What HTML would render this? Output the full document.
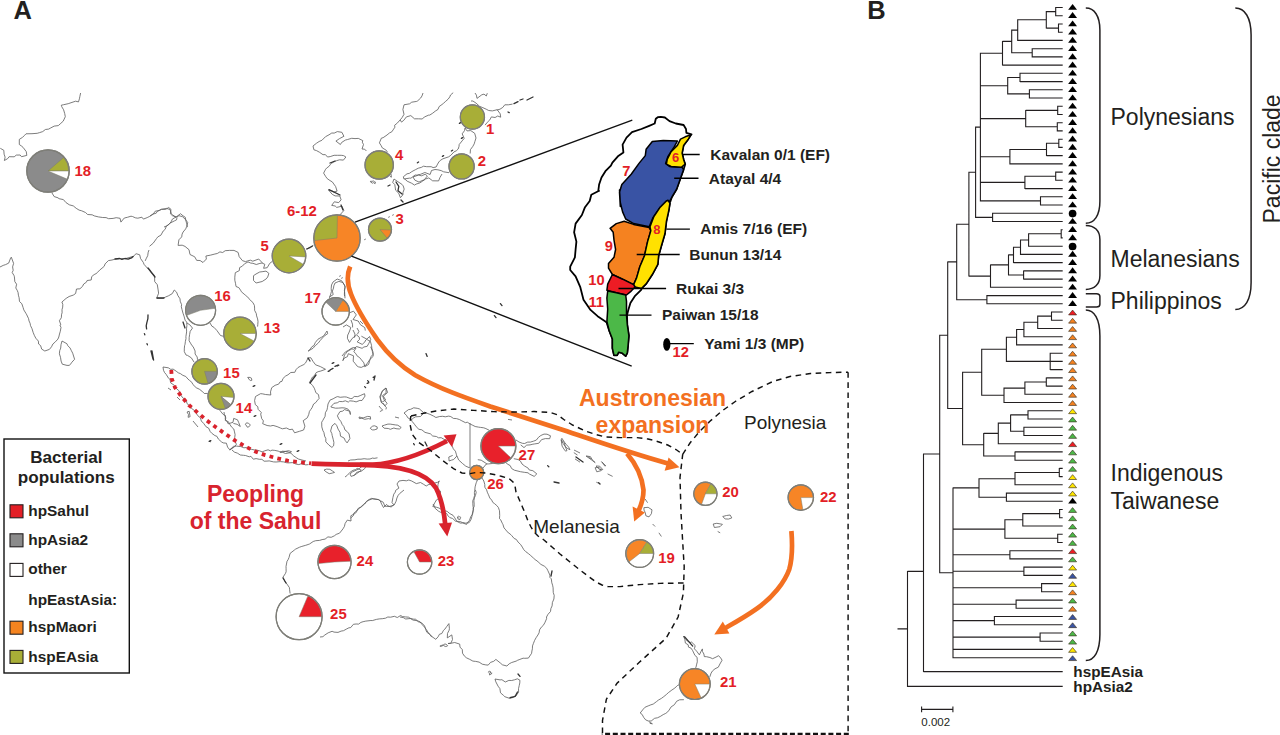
<!DOCTYPE html>
<html><head><meta charset="utf-8"><title>Figure</title>
<style>
html,body{margin:0;padding:0;background:#fff;}
body{width:1280px;height:735px;overflow:hidden;font-family:"Liberation Sans",sans-serif;}
svg{display:block;position:absolute;top:0;left:0;}
text{font-family:"Liberation Sans",sans-serif;}
</style></head><body>
<svg width="1280" height="735" viewBox="0 0 1280 735">
<rect width="1280" height="735" fill="#fff"/>
<!-- coast -->
<path d="M80.6 93.0L79.9 96.3L79.4 98.8L78.5 101.9L75.6 101.2L72.0 102.4L68.2 103.7L63.7 104.7L61.3 105.2L61.7 106.6L63.6 109.8L64.7 113.5L65.3 116.7L63.2 121.2L60.2 123.9L58.3 125.6L54.2 126.1L50.8 127.9L48.6 129.1L45.4 129.5L42.7 131.6L39.6 132.6L37.2 133.3L32.0 133.7L26.0 133.8L24.6 135.3L22.6 137.3L19.3 139.4L19.3 144.5L21.7 146.2L23.1 147.4L26.3 151.7L26.8 155.4L21.5 156.7L20.1 155.0L16.3 155.1L14.2 156.8L9.1 156.7L7.7 158.6L4.4 160.5L5.1 157.1L4.1 154.2L3.8 150.3L0.3 148.3M52.0 193.0L54.2 196.6L58.0 197.8L59.0 198.7L63.4 199.6L65.9 202.5L69.3 204.8L73.3 205.9L76.2 208.3L79.1 210.1L81.7 210.8L85.5 212.5L87.6 214.5L92.2 214.8L94.3 215.9L98.4 216.9L102.7 217.5L106.1 217.6L108.6 218.7L113.1 218.4L116.2 217.7L120.1 218.3L120.9 222.1L124.3 218.0L127.4 217.3L131.0 216.2L132.5 216.5L135.3 217.8L137.8 218.2L141.9 217.2L143.4 219.1L147.2 217.6L149.8 216.3L152.6 214.2L156.2 213.2L157.2 211.5L159.9 210.0L161.6 209.3L166.5 208.4L170.0 209.5L171.4 213.7L172.6 214.8L175.8 217.3L180.5 213.7L183.0 215.8L185.3 217.3L186.1 221.6L186.9 224.1L187.4 227.1M164.0 227.0L167.0 225.8L170.5 222.9L174.4 220.9L176.5 219.9L177.1 217.4M150.0 216.0L153.1 214.3L155.2 211.2L159.3 210.5L161.5 209.3L165.6 209.4L168.7 207.5L171.0 209.4L170.4 213.8L172.6 215.8L176.5 216.9L179.0 215.7L182.5 216.7L185.2 219.2L187.7 222.5L186.6 226.7L185.7 228.9L183.1 232.0L182.1 234.1L181.7 236.9L178.9 239.8L178.1 245.4L182.2 245.2L185.0 246.4L189.0 249.7L190.0 254.5L194.7 256.8L196.7 260.4L200.1 260.5L203.0 262.5L206.4 259.0L205.9 256.0L210.7 255.1L214.9 254.0L217.3 253.5L219.9 251.9L222.7 252.5L225.2 250.7L229.5 250.4L234.0 250.4L238.1 252.4L239.2 256.7L242.5 260.7L245.5 261.6L247.7 260.9L250.4 260.2L252.8 261.2L258.7 259.0L262.4 262.9M176.0 217.0L172.4 219.1L171.1 221.8L168.9 224.4L166.3 226.2L165.2 229.3L163.2 231.0L160.9 235.2L157.9 236.8L156.5 238.6L153.2 243.2L149.5 246.3M262.0 263.0L259.9 263.4L256.3 264.5L252.9 263.3L250.8 263.1L248.0 261.9L244.5 263.8L242.4 266.1L239.6 267.6L239.3 270.6L235.3 272.7L234.8 277.2L234.8 280.2L235.5 283.3L236.0 286.5L238.8 287.6L241.0 290.9L241.3 291.7L244.1 294.1L245.8 295.5L249.1 298.5L249.4 299.3L252.9 302.5L254.4 305.4L254.6 308.1L254.6 310.3L256.3 313.6L256.6 315.9L257.6 318.9L258.0 321.4L257.8 324.4L257.6 326.6M256.0 274.0L259.7 272.0L262.9 271.6L266.0 271.1L268.9 273.4L267.7 277.0L266.2 278.9L262.2 281.5L256.1 283.0L253.5 280.4L253.5 275.7ZM262.0 263.0L264.8 264.3L263.6 268.3L267.2 267.7L269.7 263.4L272.4 261.3M306.0 249.0L310.8 247.5L313.5 245.1M335.0 283.0L338.9 281.4L342.9 282.5L345.3 286.5L344.4 290.3L344.6 291.9L345.0 298.3M335.0 283.0L333.8 285.9L333.5 288.0L332.4 291.1L333.2 294.6L329.4 297.0M388.2 217.4L389.8 216.6M392.2 215.4L393.8 214.6M364.2 239.8L365.8 239.0M339.2 276.4L340.8 275.6M341.2 278.4L342.8 277.6M313.0 146.0L316.4 143.3L319.1 141.5L321.9 140.3L325.5 136.7L329.0 134.8L331.8 133.0L334.2 133.1L337.3 131.6L341.9 132.3L343.9 136.3L339.5 138.6L335.9 141.1L340.4 144.5L341.6 142.5L345.3 140.1L347.6 139.5L351.7 138.3L355.0 138.6L358.3 138.4L362.8 140.6L362.3 142.2L363.5 144.5L362.0 149.0L364.7 149.2L366.4 151.0M313.0 146.0L313.9 149.8L316.5 150.6L319.4 152.2L323.0 154.7L325.4 154.6L327.5 157.0L330.2 156.6L334.1 155.3L337.4 155.3L341.2 155.3L343.5 155.6L345.9 157.0L343.4 160.1L339.6 159.8L336.8 160.6L333.9 161.9L331.8 163.1L330.3 164.5L329.2 166.2L326.6 168.1L325.6 169.3L323.6 173.1L325.8 176.7L327.2 178.6L329.9 180.5L332.3 181.9L333.8 184.0L335.6 186.5L337.1 191.1L333.9 192.0L332.1 191.0L328.6 190.1L332.3 194.4L335.1 195.9L339.8 196.0L341.1 199.8L338.7 202.6L334.3 201.8L331.7 205.4L335.2 206.0L336.7 207.4L342.0 206.2L343.8 210.6L339.7 215.1M423.0 93.0L422.0 95.9L420.7 98.0L417.6 100.9L416.7 101.4L411.7 102.2L409.6 103.8L404.0 104.8L402.9 109.5L404.0 114.3L402.0 117.7L400.2 119.9L401.5 122.1L403.8 120.3L406.4 116.9L410.8 115.6L414.5 118.8L418.6 118.8L422.3 119.0L424.3 117.0L428.7 115.1L429.7 115.1L432.7 113.2L435.2 111.2L438.0 109.4L439.1 106.6L442.0 104.5L443.5 103.3L445.7 101.3L448.1 99.2L449.8 96.9L450.5 95.0L453.2 92.7M400.0 120.0L397.5 122.9L394.6 125.3L394.9 127.2L393.1 129.9L391.8 131.8L389.4 133.0L387.0 135.0L383.1 137.7L381.4 138.1L379.4 142.9L381.2 145.7L382.3 147.9L386.2 150.2L387.5 152.3M391.0 174.0L391.4 177.2L389.8 176.2M375.4 182.0L375.1 183.7L373.5 182.6L372.5 183.2L370.6 182.0L370.7 182.1L370.4 181.3L372.0 181.3L373.7 181.0L374.8 181.9ZM475.0 93.0L476.4 95.1L477.0 98.4L481.8 94.8L484.0 94.1L486.3 96.0L487.3 93.2M471.0 101.0L472.9 101.0L476.0 103.1L479.7 106.4L482.9 107.7L486.2 109.2L488.7 110.5L492.4 110.9L497.2 109.7L500.2 113.8L500.7 117.2L497.7 116.0L495.1 117.5L491.4 116.9L489.8 119.9L487.3 122.3L485.1 125.1M497.0 110.0L500.0 109.2L502.8 107.4L504.8 104.8L508.4 104.8L512.5 104.1M465.0 128.0L467.0 130.9L470.8 130.6L474.7 133.3L476.0 138.0L474.9 141.5L474.2 143.9L472.8 146.4L470.4 149.7L470.2 153.5M465.0 128.0L464.5 130.7L462.2 133.8L464.2 138.4L462.1 140.9L459.2 144.5L459.0 146.4L458.2 149.0L456.3 150.8L454.0 151.9L450.8 155.3L448.7 156.8L442.9 158.8L440.3 160.4L438.8 162.0L437.6 164.1L436.1 167.0L433.1 167.6L431.2 166.7L426.7 166.7L423.5 166.2L421.3 167.4L418.3 168.2L415.4 169.7L411.7 171.7L409.3 173.4L407.0 173.8L403.3 176.8L404.0 179.2M404.0 179.0L409.6 178.1L410.9 178.2L415.1 175.0L417.0 175.2L420.5 174.3L424.9 172.5L430.1 174.5L431.5 170.5L435.0 169.5L437.9 169.8L441.2 170.6L443.6 171.8L449.0 172.7M442.0 174.0L440.0 177.4L438.6 180.9L432.6 180.8L428.8 177.9L425.6 179.0L422.3 181.3L419.7 183.0L416.1 184.1L414.6 185.1L411.4 183.1L407.2 181.2L404.7 178.9M413.0 177.0L415.9 176.0L418.4 175.0L421.4 175.8L425.2 174.3L427.4 176.0L424.1 179.9L421.7 180.7L419.0 182.1L414.8 180.1ZM394.0 179.0L397.9 181.7L401.9 184.3L403.2 185.9L404.2 189.1L403.0 192.4L402.9 194.8L400.4 197.7L398.7 193.2L395.6 190.2L394.8 184.6L392.7 182.4ZM0.0 267.0L3.2 265.4L5.6 264.6L8.7 263.1L10.6 258.1L11.3 257.2L13.6 263.4L12.6 266.9L13.2 270.3L12.2 272.5L14.1 275.7L14.4 276.8L14.8 281.6L16.6 284.2L15.8 288.0L17.2 290.3L18.1 292.6L18.4 295.2L19.1 297.7L19.5 301.5L21.8 303.7L23.1 307.5L23.8 309.9L25.9 313.3L26.8 314.9L28.6 318.7L29.0 320.9L30.1 323.3L30.5 325.6L32.0 328.7L33.1 332.3L34.3 335.3L35.8 338.2L38.4 341.1L38.6 344.0L40.6 345.6L41.7 349.1L44.8 351.0L49.4 349.4L51.5 346.8L52.9 344.0L55.4 341.8L57.9 339.1L58.8 337.0L59.5 334.0L60.3 331.3L61.0 327.4L59.9 325.1L60.8 324.7L59.4 320.7L61.3 317.8L61.6 314.2L62.1 312.9L62.0 309.7L62.7 307.1L62.8 304.4L61.9 302.0L66.1 298.4L69.1 296.5L73.3 295.1L75.6 293.5L76.5 289.0L79.9 288.8L82.5 286.4L83.7 284.0L86.4 282.2L87.1 280.5L91.2 280.0L91.7 276.6L94.1 274.6L96.7 273.3L97.5 272.3L99.7 270.1L102.0 268.2L104.2 266.3L105.1 263.9L108.4 260.6L112.0 260.0L115.3 259.1L119.6 258.6L121.6 258.6L125.6 258.6L127.9 257.9L131.0 257.0L133.4 256.3L136.1 253.7L139.7 254.8L140.6 258.6L143.3 262.4L144.0 264.3L147.6 268.4L149.6 269.4L150.7 272.2L153.7 274.6L154.6 276.8L154.7 281.6L157.3 284.7L158.0 289.1L158.6 293.2L156.7 298.2L162.8 298.3L165.6 297.0L168.3 295.9L172.2 293.7L174.3 290.0L176.6 292.2L177.8 295.4L180.0 298.8L180.2 301.2L181.6 304.7L181.3 306.8L182.0 309.5L183.0 313.2L184.0 316.1L185.1 320.2L186.7 322.1L186.9 325.6L186.5 328.8L186.6 331.9L185.9 336.7L186.0 338.6L185.4 341.3L185.0 344.4L184.6 345.5L184.3 348.9L184.3 351.7L186.1 355.1L187.5 355.4L191.3 357.8L194.1 362.2M62.0 341.0L66.9 343.7L67.8 345.7L70.1 348.0L71.2 350.3L72.7 353.2L74.6 359.3L71.9 362.2L71.4 363.0L69.4 365.4L67.0 365.4L62.3 364.2L61.1 361.1L60.5 357.3L59.4 353.8L59.7 350.7L60.7 348.1L61.0 344.7ZM187.0 323.0L189.9 324.9L192.5 328.1L190.2 331.3L189.6 334.6L189.2 337.4L189.1 340.8L190.5 343.1L192.0 345.7L193.1 346.6L195.1 351.0L195.1 354.0L197.2 357.0L197.5 359.8M210.0 323.0L211.9 326.2L213.9 327.3L216.8 330.4L220.5 335.5L223.8 336.4M149.0 250.0L148.2 252.2L147.7 255.7L146.1 258.8L145.2 260.9M218.0 408.0L221.1 411.9L223.1 414.4L225.5 415.7L225.2 419.2L227.1 421.6L228.2 423.8L233.0 422.3L233.7 418.4L237.5 419.8L238.6 422.3L240.3 426.5L237.1 424.3L233.4 423.4M163.0 367.0L168.3 367.8L170.8 369.4L173.1 369.1L176.2 371.2L178.3 372.8L180.4 373.6L182.8 375.3L185.8 376.5L188.0 379.1L189.4 380.3L191.9 382.4L192.9 384.5L196.2 387.7L199.3 389.2L201.9 391.1L204.3 393.5L207.8 393.4M224.0 412.0L224.3 414.3L225.8 417.9L225.3 420.5L228.4 421.7L229.3 423.6L231.7 427.2L233.8 429.0L234.5 431.9L235.1 434.7L234.7 437.6L235.2 441.6L236.4 444.3L234.2 447.2L229.7 449.7M163.0 367.0L163.5 370.3L164.6 372.6L166.1 374.3L168.6 378.3L170.1 379.5L170.6 382.8L174.6 385.5L176.5 388.7L178.6 390.4L180.5 393.7L181.2 395.8L183.3 398.3L186.3 400.1L187.0 403.6L190.2 406.1L191.3 408.2L195.0 411.0L195.9 412.8L197.9 415.8L200.5 418.0L201.3 421.0L203.8 423.6L206.1 426.8L208.6 428.1L210.2 431.5L211.7 433.2L214.9 435.6L216.9 436.3L218.4 439.1L221.5 441.9L223.2 442.9L226.4 443.2L227.6 447.1L229.8 449.9L232.2 447.6M168.0 388.0L171.0 390.0M177.0 397.0L180.0 400.0M187.0 412.0L189.2 411.3L190.1 416.7L188.1 417.3L188.5 414.6ZM193.0 421.0L198.0 427.0M209.0 441.0L211.0 442.0M230.0 450.0L231.8 448.5L233.4 446.3L236.7 446.1L240.9 446.6L243.9 447.8L246.7 447.5L249.3 449.4L251.3 449.3L255.2 450.1L256.5 450.0L259.6 450.8L262.1 451.9L264.5 450.9L268.1 449.8L270.5 450.9L272.0 450.1L274.8 450.4L278.2 451.1L280.9 452.4L282.5 451.2L285.0 451.4L288.1 451.9L291.0 453.3L293.8 456.0L296.2 457.6L298.4 459.0L301.0 459.8L306.0 461.0M232.0 450.0L234.4 452.1L237.5 453.2L240.3 455.0L243.5 455.3L245.5 455.5L249.3 456.8L250.9 456.3L253.3 459.2L256.1 458.6L259.4 459.3L261.9 459.3L264.1 461.2L267.0 461.1L269.2 460.9L273.5 461.9L276.1 462.0L280.2 461.6L283.6 461.9L286.3 462.7L288.6 462.9L292.5 462.6L295.8 464.0L298.8 464.6L301.4 463.7L305.8 464.9L308.5 464.6M280.0 452.0L283.1 451.8L285.7 451.3L288.6 450.7L291.5 451.7L289.6 452.8L285.5 453.5L282.8 452.4ZM250.4 425.0L249.7 425.8L248.8 426.9L247.3 427.2L246.2 425.2L245.3 424.6L246.4 422.9L246.9 422.8L248.6 423.4L249.7 424.2ZM251.6 379.0L251.9 380.2L250.7 380.6L249.7 379.9L249.2 379.7L248.9 379.0L247.7 377.4L250.1 377.4L250.3 377.6L251.1 377.8ZM308.0 358.0L307.1 360.0L305.6 362.9L303.9 364.5L300.6 366.1L297.9 367.6L296.0 369.7L294.8 372.3L290.8 372.5L288.0 374.8L285.5 376.1L282.9 378.6L282.0 381.3L280.0 381.9L278.7 384.1L275.1 385.3L271.7 387.7L270.5 391.9L270.8 395.0L265.6 394.5L262.3 393.8L260.5 393.7L255.5 396.5L254.6 400.6L255.3 404.6L257.8 406.7L258.1 409.3L261.3 412.5L260.7 414.1L261.7 418.6L263.4 420.9L262.7 423.7L267.1 425.5L270.5 426.0L273.1 425.4L277.1 426.6L280.4 428.0L282.4 428.8L286.4 428.0L289.9 429.7L292.4 429.1L294.6 432.8L299.5 431.3L303.6 430.0L304.9 426.2L303.2 420.7L307.3 417.8L308.8 414.3L309.4 411.5L310.7 409.6L312.0 407.8L313.6 404.0L315.8 402.5L317.6 400.1L319.1 398.5L318.5 394.6L315.8 392.6L315.1 390.3L314.3 388.2L312.6 385.5L309.5 382.3L311.1 379.6L312.5 377.0L314.6 375.4L316.1 372.7L318.1 371.7L320.9 371.0L325.5 369.3L320.4 366.6L315.6 364.8L313.1 361.5L310.8 357.7ZM328.0 404.0L330.0 400.1L333.1 398.8L336.1 397.1L337.7 396.6L340.2 397.3L344.2 396.9L346.3 397.0L350.3 398.5L352.0 398.6L354.2 396.5L357.8 396.6L360.2 395.6L364.5 393.7L365.0 396.1L362.0 400.5L359.9 400.4L356.1 401.9L353.5 401.2L349.8 400.8L348.3 402.1L345.4 400.8L342.5 401.6L339.3 401.5L337.3 402.8L334.0 403.3L330.7 407.0M328.0 404.0L327.5 407.3L327.0 409.9L325.4 412.7L325.1 416.3L322.7 420.6L321.7 422.2L321.8 426.9L322.9 430.7L323.9 432.4L324.6 436.1L325.8 438.5L325.8 441.8L329.0 445.2L331.9 447.4L333.6 445.8L333.9 442.5L333.2 439.3L332.2 435.6L331.8 433.5L330.6 431.0L332.0 425.9L335.0 423.4L336.8 425.7L338.1 429.1L340.0 432.3L340.5 436.2L344.1 438.0L345.3 440.7L347.1 442.9L349.9 438.6L349.1 434.0L347.2 431.6L345.0 430.0L343.8 426.5L342.2 424.5L340.8 421.3L338.8 418.9L337.4 415.8L339.9 411.7L342.7 411.1L344.5 409.6L349.9 411.3L350.4 414.5L349.7 411.4L348.1 409.2L344.9 408.0L342.0 407.8L338.7 408.1L335.5 408.2L330.9 407.0M386.0 388.0L382.5 390.7L381.3 393.7L380.4 397.9L380.8 399.7L381.5 402.5L385.6 400.0L383.4 396.2L387.6 392.5ZM383.0 403.0L384.7 405.7L386.4 407.6L385.9 409.4M377.2 428.0L377.1 429.0L374.1 429.9L372.4 429.9L371.0 429.1L370.1 428.2L370.7 427.7L372.7 426.1L374.6 425.8L377.2 426.9ZM382.0 426.0L384.6 425.1L387.9 424.1L390.2 424.1L392.1 424.4L395.3 424.9L397.8 425.2L401.2 427.5L399.4 429.0L396.0 428.7L393.9 428.0L390.3 429.3L388.3 428.5L384.1 428.2ZM359.0 417.0L361.8 417.6L363.2 417.9L367.6 416.4L370.4 416.7L370.6 419.2L368.5 418.6L364.8 419.3L361.9 418.3L359.4 418.6ZM342.0 356.0L345.3 352.0L348.4 350.3L350.7 348.7L353.4 347.5L356.1 347.9L353.8 351.7L355.8 353.6L356.9 355.7L359.7 357.7L361.5 359.9L363.9 362.9L364.8 366.7L368.5 364.5L369.6 361.3L369.9 359.6L371.2 356.4L373.2 354.2L372.4 351.5L371.9 348.4L371.5 345.3L370.4 341.4L367.3 339.7L366.2 338.8L361.4 336.2M324.0 470.0L326.6 469.1L329.9 469.3L332.6 471.1L334.5 472.4L332.5 473.0L329.2 473.7L326.0 471.8ZM345.0 477.0L347.3 475.3L350.1 472.2L353.0 470.3L355.8 469.5L357.2 468.3L361.3 470.2L359.5 471.5L356.6 473.7L353.5 475.6M348.0 461.0L350.6 460.0L354.9 459.8L357.9 459.2L361.0 459.2L364.2 458.7L367.2 459.1L370.0 459.0L372.7 458.0L374.1 458.4L377.5 457.8M333.0 282.0L337.2 279.0L341.6 280.7L344.5 285.2L344.9 287.6L344.5 291.4L344.4 294.3L344.6 296.1M333.0 282.0L331.5 285.0L331.2 288.4L331.4 291.5L330.8 293.9L329.4 297.8M349.0 313.0L353.5 311.2L356.3 314.9L353.0 319.5L358.2 321.0L360.5 324.8L364.8 327.6L365.3 330.6M343.0 327.0L346.4 324.9L350.8 327.5L349.6 331.0L348.3 334.0L347.7 335.0L347.4 338.3L349.5 342.4L352.1 338.5L356.6 334.9L359.3 337.3L359.5 339.5L357.1 341.8L362.2 344.4L364.9 341.9L365.8 340.0L369.6 336.5L370.7 339.6L368.9 343.2L367.2 346.3L363.9 347.0L362.1 348.3L356.5 346.5L353.5 349.3L351.9 348.9L347.3 351.5L345.7 353.7L344.4 355.0L343.9 357.4L342.8 360.7L344.4 358.0L347.4 356.7L348.3 353.7L353.5 355.8L353.2 361.2L355.0 363.3L357.2 366.2L358.6 366.9L361.3 367.4L366.1 365.0L368.1 362.1L369.9 359.5L373.2 356.3L372.9 351.6L370.6 346.8M351.0 320.0L352.5 324.2L352.6 327.4M357.0 328.0L358.9 331.4L357.4 334.3M353.0 330.0L355.0 334.1L354.5 337.6M360.0 321.0L363.0 324.0M327.0 331.0L323.6 336.0L321.7 337.1L318.0 339.2L315.3 342.5L314.0 345.5L311.9 346.7L309.6 350.0L308.1 351.1L313.0 348.3L315.3 345.7L318.4 342.9L320.3 340.4L322.5 337.9L324.8 335.6L327.7 333.7ZM386.0 388.0L382.1 391.4L381.0 394.1L379.8 396.6L381.4 402.6L383.3 404.2L385.1 405.8L387.1 403.3L384.1 399.7L382.5 395.6L386.1 392.9ZM379.0 406.0L380.6 408.0L382.7 410.1L379.9 411.6M404.0 413.0L408.5 409.6L410.7 409.3L413.7 407.8L417.2 408.3L419.4 408.9L423.9 412.9L420.5 416.5L415.6 416.8L413.3 418.1L411.4 419.9L407.7 417.7L406.5 415.4ZM424.0 412.0L426.9 413.2L429.9 414.3L433.6 416.1L435.9 417.5L439.7 416.5L442.7 416.3L445.3 416.8L448.7 416.1L450.8 416.6L453.4 418.4L456.5 418.6L459.6 419.6L461.8 420.8L465.5 422.7L467.3 422.2L470.1 424.0L472.8 425.3L475.2 426.5L478.4 427.1L480.5 427.4L483.7 427.8L485.9 428.6L489.3 430.3M516.0 440.0L519.0 442.0L522.4 443.3L524.6 443.5L527.7 442.1L530.4 442.1L533.7 441.1L536.3 440.1L538.5 437.3L540.8 435.5L544.0 434.1L547.0 434.2L550.5 435.8L549.7 438.7L545.4 438.6L541.6 439.6L538.7 443.3L534.8 443.9L532.9 444.2L530.0 444.9L526.7 445.1L524.0 447.6L520.7 444.9M411.0 419.0L412.1 421.4L414.4 424.2L416.2 426.7L418.9 429.3L421.8 429.8L425.0 432.4L427.0 432.9L430.4 433.8L432.7 436.0L436.4 436.5L438.5 437.8L441.2 437.7L445.4 440.1L447.5 440.7L450.1 442.6L452.3 446.3L453.3 448.8L455.4 451.2L456.3 454.2L456.8 456.1L453.7 459.5L451.3 460.2L449.1 461.0L448.8 457.0L452.7 455.4M457.0 456.0L458.6 459.9L462.4 463.4L465.7 466.1L469.9 468.0M483.0 468.0L486.6 463.7L481.2 460.2L477.8 459.7M486.0 464.0L488.7 463.9L492.2 463.5L494.2 462.6L496.9 463.3L500.0 461.4L502.4 462.8L505.4 462.3L507.9 464.3L510.2 465.6L511.6 468.5L514.4 470.2L518.0 471.1L520.4 471.7L524.3 472.3L528.0 472.8L529.4 474.0L534.2 476.4L536.8 473.9L532.9 470.7L529.3 470.0L528.1 468.1L524.7 466.1L522.0 464.0L520.5 461.2L518.1 459.5L513.8 458.7M470.0 423.0L470.0 468.0M439.0 481.0L438.0 484.5L437.7 488.5L440.5 491.2L440.2 494.8L438.8 498.5L436.6 499.8L435.1 502.2L432.8 506.5L436.6 507.3L438.9 508.0L442.2 509.8L445.1 510.8L447.2 511.4L449.8 513.6L453.0 515.3L454.7 517.7L456.9 521.4L460.3 523.1L462.8 523.0L466.6 524.4L467.5 522.5L469.5 520.3L470.7 516.8L472.6 514.2L473.1 510.9L473.6 509.3L473.0 506.2L472.8 503.3L472.8 500.7L473.7 498.6L474.5 495.7L474.4 492.6L474.8 490.1L475.1 486.9L476.2 482.8L478.0 478.8M482.0 478.0L483.8 481.0L484.8 484.6L484.8 487.2L486.6 489.8L487.3 492.2L488.5 494.8L489.8 498.0L491.7 500.1L492.8 502.4L494.4 503.5L496.8 505.6L498.4 507.5L499.5 510.8L499.7 515.4L499.5 518.7L500.6 519.7L502.3 523.3L502.9 524.3L504.0 527.9L505.8 529.9L507.1 531.7L510.9 534.7L511.8 535.7L514.2 538.5L516.3 539.4L518.1 542.1L520.7 544.6L522.3 547.1L523.8 549.7L525.8 551.7L528.4 553.6L530.3 555.2L533.4 558.0L535.8 560.2M397.0 484.0L399.0 481.0L403.0 480.4L406.4 480.8L408.8 480.0L411.7 481.0L416.3 483.6L420.5 482.5L423.4 484.2L426.2 486.0L428.9 484.4L432.2 484.4L434.4 483.1L437.6 482.3L439.7 481.0M397.0 484.0L398.9 488.1L395.6 490.4L395.3 492.1L393.8 494.1L392.9 497.6L392.0 502.6L393.8 504.8L391.1 507.0L387.7 505.7L386.6 504.4L383.5 507.5L381.7 504.3L380.3 501.0L378.7 499.7L373.7 498.8L371.5 498.4L368.7 499.7L366.0 501.8L364.4 504.2L360.8 507.3L358.5 508.1L356.5 510.9L353.8 513.2L353.5 515.5L350.5 518.2M350.0 474.0L352.6 471.8L356.1 470.2L358.9 468.9L361.9 466.4L366.4 465.8L364.6 468.7L361.3 471.2L356.7 472.3L354.5 475.2L351.1 476.4ZM395.0 417.0L399.0 418.0M508.0 419.4L512.0 420.0M561.0 440.0L563.3 443.8L565.0 446.1L567.2 448.3L569.9 449.7L568.7 447.2L566.2 444.4L564.8 442.7L561.9 438.3ZM574.0 450.0L580.0 453.0M586.0 456.0L590.4 456.6L592.4 460.0L595.2 462.6L591.5 459.9L588.8 458.0ZM596.0 466.0L599.7 466.2L602.8 469.6L599.5 469.6ZM602.0 462.0L606.0 466.0M404.0 490.0L399.7 493.5L398.2 495.3L396.9 498.0L396.1 501.2L394.2 505.0L389.4 506.5L384.9 506.2L383.2 502.2L380.5 500.8L378.2 499.5L372.4 498.8L369.8 499.8L367.6 500.7L366.0 502.6L363.8 504.2L360.1 507.6L358.2 509.1L355.6 513.1L350.8 515.8L351.0 521.0L347.3 520.1L345.1 523.5L344.4 526.5L343.0 528.8L341.3 531.0L339.5 533.2L336.2 534.4L334.4 535.8L331.2 537.3L327.9 536.9L325.1 539.1L322.1 539.6L319.6 540.4L315.7 540.7L313.2 541.5L309.5 544.0L308.1 544.5L305.7 545.3L301.2 546.6L299.6 547.2L295.6 549.1L294.7 549.8L290.1 553.4L289.0 557.5L288.0 559.8L287.0 561.3L286.0 566.5L286.1 568.6L286.1 571.8L285.3 573.7L283.0 577.1L284.9 581.4L287.0 584.1L289.4 587.6L289.6 589.7L290.1 593.5M320.0 637.0L322.9 636.7L324.8 635.0L328.2 632.8L332.1 631.3L334.0 632.1L338.0 632.4L341.1 631.1L343.5 630.7L346.2 629.2L348.9 627.8L350.7 627.6L353.4 624.3L356.1 624.0L358.6 624.1L360.9 622.4L363.1 621.7L365.8 621.1L370.9 620.5L372.3 620.6L376.4 619.4L379.3 618.9L382.3 618.7L385.5 618.2L387.8 617.0L390.6 617.2L394.4 616.3L397.3 617.5L400.6 615.5L402.6 616.6L405.3 616.9L408.6 617.2L410.1 618.3L413.3 619.1L415.7 619.3L418.4 621.8L421.5 622.7L424.6 625.9L425.6 629.3L426.8 632.2L429.6 634.3L431.8 637.1M433.0 504.0L434.6 506.5L435.1 508.3L438.5 511.2L440.7 512.3L443.6 513.2L446.5 513.3L448.1 515.9L449.8 517.6L452.6 518.5L455.5 521.2L459.8 521.5L462.4 522.5L465.6 523.1L469.1 522.7L471.0 519.5L471.9 516.5L472.3 513.9L473.1 510.9L473.2 508.2L474.1 506.7L474.2 504.4L473.9 500.8L474.4 497.9L475.4 495.6L476.2 492.4L475.4 489.9M460.6 517.6L460.4 518.0L459.9 519.6L457.8 518.9L458.2 517.4L457.5 517.5L457.0 517.5L458.6 516.2L459.7 516.8L460.7 517.2ZM400.0 617.0L403.3 617.6L405.7 619.0L410.3 618.5L413.1 620.1L417.0 620.7L419.8 621.6L422.1 624.5L424.7 627.3L426.4 629.6L428.2 632.6L430.3 634.6L431.9 636.6L435.8 639.3L438.1 636.8L439.4 634.3L441.8 633.5L443.5 630.3L444.9 629.1L446.6 626.7L448.9 623.6L449.4 628.4L449.2 630.1L447.5 633.4L447.3 637.9L451.8 634.9L452.5 639.5L450.9 643.2L448.0 643.5L450.4 643.4L454.7 642.5L459.7 644.1L460.0 647.1L462.3 649.6L462.5 653.2L464.5 656.2L466.6 657.9L469.6 659.3L472.9 661.1L475.7 661.4L479.1 662.1L482.3 664.2L485.8 664.9L488.2 665.1L490.5 662.4L493.7 661.3L495.9 659.4L500.7 663.3L502.4 664.8L506.9 666.0L509.2 663.8L511.7 662.5L516.2 661.1L517.3 660.4L519.9 659.4L523.1 658.2L524.8 658.3L528.4 658.1L531.6 653.3L531.9 651.0L532.4 648.8L532.5 645.9L533.4 643.5L534.6 640.4L536.1 637.7L537.9 635.0L539.1 632.8L539.5 629.9L541.3 627.2L543.2 625.5L544.8 622.8L546.6 618.7L546.5 617.0L548.0 614.3L550.5 611.5L550.9 608.5L552.1 605.9L552.4 602.5L553.9 599.0L554.2 595.4L553.3 592.7L553.2 591.0L553.1 587.8L552.6 585.2L551.8 582.8L551.3 578.8L549.9 577.4L549.9 575.1L547.9 570.7L546.7 568.3L544.4 566.2L540.9 564.4L538.1 561.8L535.7 559.9M447.6 645.6L447.3 646.1L445.3 646.5L443.3 645.4L441.0 646.4L439.9 646.1L441.2 645.5L443.4 644.8L445.0 643.9L446.8 644.7ZM490.8 673.0L492.1 673.2L490.8 674.3L489.6 675.0L489.4 673.4L489.4 672.9L488.4 672.2L489.2 671.1L490.5 671.6L490.5 673.1ZM495.0 679.0L500.1 679.9L501.9 679.7L505.3 682.0L508.9 680.4L511.7 680.5L514.5 679.8L517.4 678.8L519.9 680.2L519.8 682.9L519.2 685.7L518.5 688.7L518.6 692.1L515.6 696.4L512.9 697.5L509.7 698.4L504.8 696.7L503.6 695.5L500.5 692.8L499.9 688.6L498.1 686.2L495.8 681.8ZM683.4 636.0L685.5 638.9L687.4 641.1L690.1 642.5L691.6 642.1L695.2 645.6L694.4 648.8L696.6 651.1L699.4 654.9L700.8 651.8L702.4 648.9L702.4 651.4L703.9 654.0L704.3 656.6L706.5 656.7L709.9 657.5L712.6 658.7L716.0 657.1L718.6 655.7L720.7 658.0L722.1 660.2L719.9 664.0L718.3 667.2L715.0 668.8L712.6 670.8L711.1 673.1L709.8 676.9M683.4 636.0L684.8 639.3L685.4 643.1L688.2 644.8L688.5 647.1L691.1 648.2L692.7 650.7L694.9 655.4L697.1 657.3L697.3 661.8L696.5 664.9L696.0 667.2L694.0 669.7M679.4 684.6L677.3 685.6L674.8 688.1L671.9 690.0L668.3 692.7L666.5 694.4L663.8 696.6L661.4 698.4L658.4 700.1L656.4 701.7L653.2 704.1L650.9 704.8L648.2 705.9L645.1 707.2L643.3 709.1L640.2 713.0L642.1 714.4L643.7 717.4L645.7 719.9L648.3 721.0L651.2 721.0L654.6 718.3L657.4 717.8L660.2 716.5L663.2 714.6L665.7 713.4L667.7 711.9L669.1 710.1L671.1 706.9L674.4 704.7L676.6 701.3L679.6 699.8L683.9 699.7M648.9 721.7L652.4 723.8L649.8 723.4M561.3 440.1L564.2 442.5L565.2 446.2L565.4 447.0L567.0 450.5L565.6 451.2L563.8 448.9L562.1 446.1L561.6 443.2ZM595.1 467.7L599.2 467.4L601.3 470.6L596.8 471.8ZM573.8 452.6L577.5 455.1M575.0 458.9L580.0 462.2M587.5 456.4L591.3 458.9M601.3 461.4L605.1 466.4M607.6 473.9L612.6 476.4M596.3 482.2L600.1 483.9M645.1 499.0L647.6 502.7M652.6 524.0L655.1 526.5M658.9 532.8L661.4 536.5M717.7 531.5L720.2 532.8M643.9 507.7L648.1 507.3L652.0 509.8L651.4 513.7L649.0 516.9L645.9 515.8L645.2 512.4L644.0 510.1ZM713.2 524.0L716.8 523.3L722.4 524.3L720.0 526.7L714.4 527.5ZM722.7 516.5L726.5 515.5L730.1 515.0L731.8 517.9L728.4 519.1L725.1 518.9Z" fill="none" stroke="#5a5a5a" stroke-width="0.8" stroke-linejoin="round"/>
<path d="M307.0 249.0L312.4 246.0M329.0 189.6L340.0 195.0M341.0 205.0L343.0 210.0M330.0 163.0L335.0 161.0M514.0 103.6L518.0 101.6M520.0 100.0L523.0 99.0M527.0 100.0L533.0 97.0M508.0 112.0L509.2 112.6M396.0 182.0L398.8 186.3L398.0 190.7L402.1 194.0M401.0 200.0L403.0 202.0M388.0 186.0L390.0 185.0M417.4 162.8L418.6 162.0M451.4 151.0L452.6 150.2M442.4 156.4L443.6 155.6M459.4 123.4L460.6 122.6M461.4 138.4L462.6 137.6M115.0 259.0L119.7 258.5L121.9 259.4L124.9 258.5L128.2 259.1L131.5 257.9L133.1 256.5M157.0 298.0L164.0 298.0M148.0 268.0L155.0 277.0M183.0 322.0L185.0 328.0M148.0 315.0L147.9 318.6L146.8 322.8L146.2 325.8L146.6 328.9M144.4 333.6L144.8 334.8M147.0 343.6L147.4 344.8M151.0 351.0L153.0 359.0M152.0 351.0L153.6 360.0M310.0 383.0L316.0 375.0M308.0 358.0L310.0 361.0M332.2 363.4L333.8 362.6M337.2 366.0L338.8 365.2M328.2 371.4L329.8 370.6M373.2 377.4L374.8 376.6M367.2 383.4L368.8 382.6M253.2 386.4L254.8 385.6M254.2 416.4L255.8 415.6M297.2 451.4L298.8 450.6M209.2 441.4L210.8 440.6M280.2 444.4L281.8 443.6M330.0 370.0L333.0 368.4M335.0 366.4L338.0 365.0M375.0 376.0L374.0 380.0M367.6 380.6L368.6 381.6M364.6 386.6L365.6 387.6M426.0 353.6L427.2 356.4M500.4 303.6L502.0 305.6M494.4 315.6L496.0 317.6M425.0 442.0L427.0 446.0M413.6 443.6L414.4 444.8M576.0 457.0L583.0 462.0M547.6 465.6L548.8 466.8M554.0 482.0L559.0 483.0M598.6 482.6L600.0 484.0M283.0 578.0L286.0 583.0M552.0 571.0L551.0 576.0M518.0 674.0L520.0 676.4M510.0 697.6L512.9 697.0L515.3 696.1L517.5 692.0M684.7 636.8L692.7 646.1" fill="none" stroke="#333" stroke-width="1.3" stroke-linejoin="round" stroke-linecap="round"/>
<!-- inset -->
<path d="M655.8 118.8L657.8 117.2L660.9 116.9L664.9 117.5L669.5 121.1L675.8 123.5L683.6 125.0L686.0 129.0L686.4 132.9L691.5 134.4L690.7 135.2L688.3 139.1L683.6 145.4L682.1 153.2L683.6 159.5L685.2 164.2L683.6 169.6L680.5 178.2L676.6 189.2L671.9 197.0L670.3 201.7L668.8 200.2L669.9 203.3L668.8 210.3L666.4 221.3L664.9 233.8L661.7 244.8L658.6 255.7L657.8 264.3L652.3 274.5L646.1 283.9L641.4 288.6L641.4 289.6L635.1 295.8L630.4 302.9L628.1 310.7L627.0 315.4L627.3 324.8L628.9 335.7L628.1 345.1L627.3 352.9L625.7 356.1L621.8 352.9L618.7 352.2L617.1 355.3L614.0 355.3L612.4 348.2L612.4 338.9L609.3 331.0L606.6 322.4L605.4 321.6L597.6 316.2L590.5 309.9L583.5 299.7L580.3 287.2L575.6 276.3L570.2 270.0L570.2 266.7L574.9 257.3L575.6 249.5L576.4 241.6L574.1 232.3L575.6 223.6L581.9 215.0L585.0 207.2L589.7 201.0L591.3 194.7L599.1 190.8L598.3 190.8L599.1 184.5L601.5 177.5L605.4 171.2L610.9 165.7L612.4 162.6L617.9 156.3L623.4 152.4L622.6 144.6L626.5 137.6L632.0 132.1L641.4 129.0L649.2 125.8L654.7 123.5Z" fill="#fff" stroke="#000" stroke-width="1.8" stroke-linejoin="round"/>
<path d="M652.3 141.5L663.3 140.4L677.4 141.0L674.2 146.9L668.0 156.3L665.6 163.4L669.5 166.5L682.1 167.3L683.6 169.6L680.5 178.2L676.6 189.2L671.9 197.0L669.5 201.7L666.4 201.0L660.2 207.2L653.1 217.4L649.2 226.8L633.6 223.6L625.7 219.0L622.6 211.9L620.3 202.5L619.5 190.0L620.3 206.4L619.5 192.3L621.8 184.5L631.2 174.3L639.0 163.4L645.3 155.6L646.1 149.3Z" fill="#3953a4" stroke="#000" stroke-width="1.5" stroke-linejoin="round"/>
<path d="M691.1 134.7L685.2 136.8L680.5 139.1L677.4 145.4L671.1 151.6L667.2 159.5L666.4 164.2L671.1 166.5L681.3 167.3L685.2 164.2L683.6 159.5L682.1 153.2L683.6 145.4L688.3 139.1Z" fill="#ffe100" stroke="#000" stroke-width="1.5" stroke-linejoin="round"/>
<path d="M610.1 228.3L616.3 223.6L624.2 221.3L633.6 224.4L649.2 227.6L650.8 230.7L647.6 241.6L644.5 255.7L639.8 266.7L636.7 277.6L633.6 284.7L622.6 279.2L612.4 274.5L608.5 268.2L608.5 263.6L614.0 257.3L615.6 249.5L614.0 240.1L613.2 232.3Z" fill="#f58220" stroke="#000" stroke-width="1.5" stroke-linejoin="round"/>
<path d="M668.0 200.2L669.9 203.3L668.8 210.3L666.4 221.3L664.9 233.8L661.7 244.8L658.6 255.7L657.8 264.3L652.3 274.5L646.1 283.9L641.4 288.6L635.1 287.0L633.6 284.7L636.7 277.6L639.8 266.7L644.5 255.7L647.6 241.6L650.8 230.7L650.0 226.8L653.9 216.6L660.2 207.2L666.4 201.0Z" fill="#ffe100" stroke="#000" stroke-width="1.5" stroke-linejoin="round"/>
<path d="M612.4 274.5L622.6 279.2L633.6 284.7L635.1 287.1L631.2 291.1L626.5 295.0L616.3 292.7L606.9 290.3L607.7 284.1Z" fill="#ed1c24" stroke="#000" stroke-width="1.5" stroke-linejoin="round"/>
<path d="M607.7 291.1L616.3 292.7L625.7 295.0L626.5 301.3L626.5 315.4L627.3 324.8L628.9 335.7L628.1 345.1L627.3 352.9L625.7 356.1L621.8 352.9L618.7 352.2L617.1 355.3L614.0 355.3L612.4 348.2L612.4 338.9L609.3 331.0L606.9 321.6L607.7 309.1L606.9 298.2Z" fill="#4cb848" stroke="#000" stroke-width="1.5" stroke-linejoin="round"/>
<ellipse cx="666.8" cy="344.4" rx="3.6" ry="6.4" fill="#000"/>
<path d="M682.8 154.5L699.7 154.5M674.2 178.2L698.5 178.2M666.4 229.1L689.9 229.1M636.7 254.5L679.7 254.5M618.5 288.5L666.1 288.5M619.5 315.1L651.5 315.1M669.5 343.6L693.8 343.6" stroke="#000" stroke-width="1.4" fill="none"/>
<g font-family="'Liberation Sans', sans-serif" font-weight="bold" font-size="15.5" fill="#231f20">
<text x="710.3" y="159.5">Kavalan 0/1 (EF)</text>
<text x="708.8" y="183.5">Atayal 4/4</text>
<text x="700.3" y="234.3">Amis 7/16 (EF)</text>
<text x="689.2" y="259.6">Bunun 13/14</text>
<text x="676" y="294">Rukai 3/3</text>
<text x="662" y="320.1">Paiwan 15/18</text>
<text x="704.3" y="348.6">Yami 1/3 (MP)</text>
</g>
<g font-family="'Liberation Sans', sans-serif" font-weight="bold" font-size="14.7" fill="#e31e26">
<text x="672" y="161.5" font-size="13">6</text>
<text x="622.3" y="176.2" font-size="14.7">7</text>
<text x="653.2" y="233.5" font-size="13">8</text>
<text x="604.8" y="250.7" font-size="14.7">9</text>
<text x="588.3" y="285.4" font-size="14.7">10</text>
<text x="588.5" y="307.2" font-size="14.7">11</text>
<text x="672.5" y="357.3" font-size="14.7">12</text>
</g>
<!-- arrows -->
<path d="M171.3 370L171.8 378.8L175 387.5L181.3 396.3L188.8 405L197.6 412.6L206.3 420.1L216.3 427.6L226.3 434.6L235.1 440.6L245.1 446.4L255.1 451.4L265.2 455.1L276.4 458.1L287.7 460.7L299 462.2L311 463.4" fill="none" stroke="#d9232d" stroke-width="3.8" stroke-dasharray="3.8 4.25" stroke-linejoin="round"/>
<path d="M311.5 463.6C335 464.5 355 465 372.7 464.6C395 463.5 418 456 447 441" fill="none" stroke="#d9232d" stroke-width="4.7"/>
<path d="M456.5 434.3L443.6 435.6L452 447Z" fill="#d9232d"/>
<path d="M360 464.8C395 465 425 470 436 488C442 500 444 512 445.2 524" fill="none" stroke="#d9232d" stroke-width="4.7"/>
<path d="M447.3 536.6L438.6 523.4L452 522.4Z" fill="#d9232d"/>
<path d="M350.2 266.5C346.5 275 347.5 285 351 294C358 312 368 326 377.7 340.1C390 357 402 367 415.3 375.2C440 389 466 398 490.4 406.5C520 416 545 424 560 429C590 439 630 453 668 463.5" fill="none" stroke="#f37021" stroke-width="4.7"/>
<path d="M679.5 467.3L668.6 457.6L664.6 470.8Z" fill="#f37021"/>
<path d="M627 453.5C636 464 642 476 643.5 490C643.5 499 641 506 637.5 513" fill="none" stroke="#f37021" stroke-width="4.7"/>
<path d="M634.2 521.4L632.6 506.6L645 512.6Z" fill="#f37021"/>
<path d="M791.4 531C792.6 546 792.5 558 789.3 569.2C784.8 582 772.5 598 756.3 609C745 617 735 622.5 724.5 628.5" fill="none" stroke="#f37021" stroke-width="4.7"/>
<path d="M714.3 634.4L722.8 621.4L729.4 633.4Z" fill="#f37021"/>
<!-- pies -->
<circle cx="48.0" cy="171.0" r="21.2" fill="#8b8b8b" stroke="#7e7e78" stroke-width="1.2"/>
<path d="M48.0 171.0L68.8 171.0A20.8 20.8 0 0 0 63.7 157.4Z" fill="#a8ae37" stroke="#7d7d6d" stroke-width="0.5" stroke-linejoin="round"/>
<path d="M48.0 171.0L67.1 179.1A20.8 20.8 0 0 0 68.8 171.0Z" fill="#ffffff" stroke="#7d7d6d" stroke-width="0.5" stroke-linejoin="round"/>
<circle cx="48.0" cy="171.0" r="21.2" fill="none" stroke="#7e7e78" stroke-width="1.2"/>
<circle cx="472.4" cy="117.0" r="12.1" fill="#a8ae37" stroke="#7e7e78" stroke-width="1.2"/>
<circle cx="472.4" cy="117.0" r="12.1" fill="none" stroke="#7e7e78" stroke-width="1.2"/>
<circle cx="461.6" cy="166.4" r="12.6" fill="#a8ae37" stroke="#7e7e78" stroke-width="1.2"/>
<circle cx="461.6" cy="166.4" r="12.6" fill="none" stroke="#7e7e78" stroke-width="1.2"/>
<circle cx="379.2" cy="165.0" r="14.2" fill="#a8ae37" stroke="#7e7e78" stroke-width="1.2"/>
<circle cx="379.2" cy="165.0" r="14.2" fill="none" stroke="#7e7e78" stroke-width="1.2"/>
<circle cx="380.0" cy="229.6" r="11.5" fill="#a8ae37" stroke="#7e7e78" stroke-width="1.2"/>
<path d="M380.0 229.6L387.1 238.1A11.1 11.1 0 0 0 391.1 230.0Z" fill="#f78526" stroke="#7d7d6d" stroke-width="0.5" stroke-linejoin="round"/>
<circle cx="380.0" cy="229.6" r="11.5" fill="none" stroke="#7e7e78" stroke-width="1.2"/>
<circle cx="337.0" cy="238.0" r="23.2" fill="#f78526" stroke="#7e7e78" stroke-width="1.2"/>
<path d="M337.0 238.0L337.4 215.2A22.8 22.8 0 0 0 314.3 240.6Z" fill="#a8ae37" stroke="#7d7d6d" stroke-width="0.5" stroke-linejoin="round"/>
<circle cx="337.0" cy="238.0" r="23.2" fill="none" stroke="#7e7e78" stroke-width="1.2"/>
<circle cx="289.0" cy="256.0" r="16.8" fill="#a8ae37" stroke="#7e7e78" stroke-width="1.2"/>
<path d="M289.0 256.0L303.2 264.2A16.4 16.4 0 0 0 305.4 256.9Z" fill="#ffffff" stroke="#7d7d6d" stroke-width="0.5" stroke-linejoin="round"/>
<circle cx="289.0" cy="256.0" r="16.8" fill="none" stroke="#7e7e78" stroke-width="1.2"/>
<circle cx="200.6" cy="310.3" r="15.0" fill="#ffffff" stroke="#7e7e78" stroke-width="1.2"/>
<path d="M200.6 310.3L215.1 308.3A14.6 14.6 0 1 0 186.9 315.3Z" fill="#8b8b8b" stroke="#7d7d6d" stroke-width="0.5" stroke-linejoin="round"/>
<circle cx="200.6" cy="310.3" r="15.0" fill="none" stroke="#7e7e78" stroke-width="1.2"/>
<circle cx="240.0" cy="333.5" r="16.3" fill="#a8ae37" stroke="#7e7e78" stroke-width="1.2"/>
<path d="M240.0 333.5L254.0 341.0A15.9 15.9 0 0 0 255.9 333.5Z" fill="#ffffff" stroke="#7d7d6d" stroke-width="0.5" stroke-linejoin="round"/>
<circle cx="240.0" cy="333.5" r="16.3" fill="none" stroke="#7e7e78" stroke-width="1.2"/>
<circle cx="204.6" cy="371.4" r="12.7" fill="#a8ae37" stroke="#7e7e78" stroke-width="1.2"/>
<path d="M204.6 371.4L208.0 383.2A12.3 12.3 0 0 0 216.9 371.4Z" fill="#8b8b8b" stroke="#7d7d6d" stroke-width="0.5" stroke-linejoin="round"/>
<circle cx="204.6" cy="371.4" r="12.7" fill="none" stroke="#7e7e78" stroke-width="1.2"/>
<circle cx="221.0" cy="396.4" r="13.0" fill="#a8ae37" stroke="#7e7e78" stroke-width="1.2"/>
<path d="M221.0 396.4L230.7 404.5A12.6 12.6 0 0 0 233.6 397.5Z" fill="#ffffff" stroke="#7d7d6d" stroke-width="0.5" stroke-linejoin="round"/>
<path d="M221.0 396.4L225.3 408.2A12.6 12.6 0 0 0 230.7 404.5Z" fill="#8b8b8b" stroke="#7d7d6d" stroke-width="0.5" stroke-linejoin="round"/>
<circle cx="221.0" cy="396.4" r="13.0" fill="none" stroke="#7e7e78" stroke-width="1.2"/>
<circle cx="335.7" cy="311.4" r="13.7" fill="#ffffff" stroke="#7e7e78" stroke-width="1.2"/>
<path d="M335.7 311.4L349.0 311.4A13.3 13.3 0 0 0 342.7 300.1Z" fill="#f78526" stroke="#7d7d6d" stroke-width="0.5" stroke-linejoin="round"/>
<path d="M335.7 311.4L342.7 300.1A13.3 13.3 0 0 0 326.0 302.3Z" fill="#8b8b8b" stroke="#7d7d6d" stroke-width="0.5" stroke-linejoin="round"/>
<circle cx="335.7" cy="311.4" r="13.7" fill="none" stroke="#7e7e78" stroke-width="1.2"/>
<circle cx="498.4" cy="446.1" r="17.5" fill="#e8212b" stroke="#7e7e78" stroke-width="1.2"/>
<path d="M498.4 446.1L510.9 457.8A17.1 17.1 0 0 0 515.5 446.1Z" fill="#ffffff" stroke="#7d7d6d" stroke-width="0.5" stroke-linejoin="round"/>
<circle cx="498.4" cy="446.1" r="17.5" fill="none" stroke="#7e7e78" stroke-width="1.2"/>
<circle cx="476.7" cy="472.5" r="7.1" fill="#f78526" stroke="#7e7e78" stroke-width="1.2"/>
<circle cx="476.7" cy="472.5" r="7.1" fill="none" stroke="#7e7e78" stroke-width="1.2"/>
<circle cx="334.5" cy="562.0" r="16.6" fill="#ffffff" stroke="#7e7e78" stroke-width="1.2"/>
<path d="M334.5 562.0L350.7 561.2A16.2 16.2 0 1 0 318.4 563.6Z" fill="#e8212b" stroke="#7d7d6d" stroke-width="0.5" stroke-linejoin="round"/>
<circle cx="334.5" cy="562.0" r="16.6" fill="none" stroke="#7e7e78" stroke-width="1.2"/>
<circle cx="419.6" cy="562.0" r="12.2" fill="#ffffff" stroke="#7e7e78" stroke-width="1.2"/>
<path d="M419.6 562.0L431.4 562.0A11.8 11.8 0 0 0 413.9 551.7Z" fill="#e8212b" stroke="#7d7d6d" stroke-width="0.5" stroke-linejoin="round"/>
<circle cx="419.6" cy="562.0" r="12.2" fill="none" stroke="#7e7e78" stroke-width="1.2"/>
<circle cx="299.1" cy="616.7" r="23.0" fill="#ffffff" stroke="#7e7e78" stroke-width="1.2"/>
<path d="M299.1 616.7L321.7 616.7A22.6 22.6 0 0 0 307.9 595.9Z" fill="#e8212b" stroke="#7d7d6d" stroke-width="0.5" stroke-linejoin="round"/>
<circle cx="299.1" cy="616.7" r="23.0" fill="none" stroke="#7e7e78" stroke-width="1.2"/>
<circle cx="705.4" cy="493.8" r="11.6" fill="#ffffff" stroke="#7e7e78" stroke-width="1.2"/>
<path d="M705.4 493.8L710.8 484.0A11.2 11.2 0 1 0 701.6 504.3Z" fill="#f78526" stroke="#7d7d6d" stroke-width="0.5" stroke-linejoin="round"/>
<path d="M705.4 493.8L716.6 493.8A11.2 11.2 0 0 0 710.8 484.0Z" fill="#a8ae37" stroke="#7d7d6d" stroke-width="0.5" stroke-linejoin="round"/>
<circle cx="705.4" cy="493.8" r="11.6" fill="none" stroke="#7e7e78" stroke-width="1.2"/>
<circle cx="800.8" cy="497.6" r="12.7" fill="#f78526" stroke="#7e7e78" stroke-width="1.2"/>
<path d="M800.8 497.6L802.9 509.7A12.3 12.3 0 0 0 813.1 497.6Z" fill="#ffffff" stroke="#7d7d6d" stroke-width="0.5" stroke-linejoin="round"/>
<circle cx="800.8" cy="497.6" r="12.7" fill="none" stroke="#7e7e78" stroke-width="1.2"/>
<circle cx="639.7" cy="553.5" r="13.9" fill="#ffffff" stroke="#7e7e78" stroke-width="1.2"/>
<path d="M639.7 553.5L646.9 542.1A13.5 13.5 0 0 0 629.1 561.8Z" fill="#f78526" stroke="#7d7d6d" stroke-width="0.5" stroke-linejoin="round"/>
<path d="M639.7 553.5L653.2 553.5A13.5 13.5 0 0 0 646.9 542.1Z" fill="#a8ae37" stroke="#7d7d6d" stroke-width="0.5" stroke-linejoin="round"/>
<circle cx="639.7" cy="553.5" r="13.9" fill="none" stroke="#7e7e78" stroke-width="1.2"/>
<circle cx="694.8" cy="684.1" r="15.4" fill="#f78526" stroke="#7e7e78" stroke-width="1.2"/>
<path d="M694.8 684.1L701.1 697.7A15.0 15.0 0 0 0 709.8 684.1Z" fill="#ffffff" stroke="#7d7d6d" stroke-width="0.5" stroke-linejoin="round"/>
<circle cx="694.8" cy="684.1" r="15.4" fill="none" stroke="#7e7e78" stroke-width="1.2"/>
<!-- mapmisc -->
<path d="M355 222.2L632.3 120.2M351.5 256.2L631.7 366.2" stroke="#111" stroke-width="1.4" fill="none"/>
<path d="M411.0 416.0L420.0 414.0L436.0 411.0L454.0 409.0L474.0 410.4L494.0 411.6L514.0 412.0L534.0 411.6L550.0 412.4L558.0 415.0L563.8 419.5L572.6 425.0L580.0 428.5L586.3 431.3L596.0 434.5L605.1 436.9L620.1 437.6L636.4 437.6L648.0 439.0L655.2 440.7L667.7 445.0L676.0 449.5L682.7 454.4M682.7 454.4L690.0 443.0L700.0 431.0L710.2 421.0L722.0 411.0L735.3 401.5L752.0 391.5L772.8 381.5L790.0 376.5L810.4 373.5L830.0 372.6L848.1 372.2M848.1 372.2L848.1 733.0M602.5 733.0L602.5 720.4L606.4 699.2L617.0 683.3L639.6 662.0L666.1 638.2L678.1 617.0L683.4 593.1L684.2 566.5L683.4 553.9L681.0 513.0L680.0 477.3L682.7 454.4M683.6 583.0L660.0 583.4L639.6 584.6L620.0 586.6L608.0 586.6L602.0 585.0L596.0 582.0L588.0 576.0L580.0 570.0L570.0 562.0L560.0 554.0L552.0 547.0L544.0 540.0L538.0 536.0L534.0 532.0L531.0 527.0L528.0 521.0L525.0 513.0L522.0 506.0L519.0 499.0L516.0 492.0L515.0 486.0L513.0 482.0L509.0 478.5L502.0 476.5L494.0 474.5L486.0 473.0L476.5 472.4L470.0 473.6L462.0 473.0L454.0 469.0L442.0 460.0L430.0 450.0L418.0 442.0L412.0 434.0L410.0 424.0L410.8 416.0" fill="none" stroke="#111" stroke-width="1.45" stroke-dasharray="5.6 4.5"/>
<path d="M848.8 733.9L601.8 733.9" fill="none" stroke="#111" stroke-width="2.4" stroke-dasharray="5 2.7"/>
<!-- maplabels -->
<g font-family="'Liberation Sans', sans-serif" font-weight="bold" font-size="14.9" fill="#e31e26">
<text x="74.5" y="175.6">18</text>
<text x="486.0" y="133.8">1</text>
<text x="477.8" y="166.4">2</text>
<text x="395.0" y="160.1">4</text>
<text x="395.5" y="224">3</text>
<text x="287" y="216.3">6-12</text>
<text x="260.5" y="251">5</text>
<text x="214.3" y="300.8">16</text>
<text x="263.6" y="333.1">13</text>
<text x="223.1" y="377.7">15</text>
<text x="235.6" y="413.2">14</text>
<text x="304.5" y="302.5">17</text>
<text x="518.6" y="460.1">27</text>
<text x="487.3" y="488.9">26</text>
<text x="356.6" y="565.7">24</text>
<text x="437.8" y="565.7">23</text>
<text x="330.1" y="618.9">25</text>
<text x="722.2" y="496.5">20</text>
<text x="819.9" y="502">22</text>
<text x="658.2" y="562.6">19</text>
<text x="720" y="686.7">21</text>
</g>
<g font-family="'Liberation Sans', sans-serif" font-weight="bold" font-size="23" text-anchor="middle">
<text x="255.5" y="502" fill="#d8232e">Peopling</text><text x="255.5" y="529" fill="#d8232e">of the Sahul</text>
<text x="652.5" y="405.5" fill="#f37021">Austronesian</text><text x="652.5" y="432.6" fill="#f37021">expansion</text>
</g>
<g font-family="'Liberation Sans', sans-serif" font-size="19" fill="#231f20"><text x="744" y="429">Polynesia</text><text x="533.3" y="532.6">Melanesia</text></g>
<!-- legend -->
<rect x="4" y="439" width="125.3" height="234" fill="#fff" stroke="#111" stroke-width="1.4"/>
<g font-family="'Liberation Sans', sans-serif" font-weight="bold" fill="#231f20">
<text x="66.3" y="463" font-size="17.1" text-anchor="middle">Bacterial</text><text x="66.3" y="483.4" font-size="17.1" text-anchor="middle">populations</text>
<rect x="10" y="504.8" width="13" height="13" fill="#e31f26" stroke="#231f20" stroke-width="1.1"/>
<text x="28.3" y="516.3" font-size="15.4">hpSahul</text>
<rect x="10" y="533.8" width="13" height="13" fill="#8b8b8b" stroke="#231f20" stroke-width="1.1"/>
<text x="28.3" y="545.2" font-size="15.4">hpAsia2</text>
<rect x="10" y="563.4" width="13" height="13" fill="#fff" stroke="#231f20" stroke-width="1.1"/>
<text x="28.3" y="574" font-size="15.4">other</text>
<text x="28.3" y="605.3" font-size="15.4">hpEastAsia:</text>
<rect x="10" y="621.2" width="13" height="13" fill="#f58420" stroke="#231f20" stroke-width="1.1"/>
<text x="28.3" y="631.5" font-size="15.4">hspMaori</text>
<rect x="10" y="650.4" width="13" height="13" fill="#a8ae37" stroke="#231f20" stroke-width="1.1"/>
<text x="28.3" y="661.5" font-size="15.4">hspEAsia</text>
</g>
<!-- tree -->
<path d="M1055.7 7.0L1055.7 16.2M1055.7 7.5L1062.7 7.5M1055.7 15.7L1062.7 15.7M1058.5 23.5L1058.5 32.7M1058.5 24.0L1062.7 24.0M1058.5 32.2L1062.7 32.2M1046.3 11.1L1046.3 28.6M1046.3 11.6L1055.7 11.6M1046.3 28.1L1058.5 28.1M1017.7 19.3L1017.7 40.9M1017.7 19.8L1046.3 19.8M1017.7 40.4L1062.7 40.4M1032.2 48.2L1032.2 57.4M1032.2 48.7L1062.7 48.7M1032.2 56.9L1062.7 56.9M1011.7 29.6L1011.7 53.3M1011.7 30.1L1017.7 30.1M1011.7 52.8L1032.2 52.8M1002.5 40.9L1002.5 65.6M1002.5 41.4L1011.7 41.4M1002.5 65.1L1062.7 65.1M1020.0 72.8L1020.0 82.1M1020.0 73.3L1062.7 73.3M1020.0 81.6L1062.7 81.6M1029.4 89.3L1029.4 98.5M1029.4 89.8L1062.7 89.8M1029.4 98.0L1062.7 98.0M1007.7 77.0L1007.7 94.4M1007.7 77.5L1020.0 77.5M1007.7 93.9L1029.4 93.9M1057.7 105.8L1057.7 115.0M1057.7 106.3L1062.7 106.3M1057.7 114.5L1062.7 114.5M1057.3 122.2L1057.3 131.4M1057.3 122.7L1062.7 122.7M1057.3 130.9L1062.7 130.9M1025.7 109.9L1025.7 127.3M1025.7 110.4L1057.7 110.4M1025.7 126.8L1057.3 126.8M1058.8 138.7L1058.8 147.9M1058.8 139.2L1062.7 139.2M1058.8 147.4L1062.7 147.4M1046.5 142.8L1046.5 156.1M1046.5 143.3L1058.8 143.3M1046.5 155.6L1062.7 155.6M1009.9 149.0L1009.9 164.4M1009.9 149.5L1046.5 149.5M1009.9 163.9L1062.7 163.9M1055.7 171.6L1055.7 180.8M1055.7 172.1L1062.7 172.1M1055.7 180.3L1062.7 180.3M1024.9 175.7L1024.9 189.1M1024.9 176.2L1055.7 176.2M1024.9 188.6L1062.7 188.6M1040.5 196.3L1040.5 205.5M1040.5 196.8L1062.7 196.8M1040.5 205.0L1062.7 205.0M980.4 52.8L980.4 201.4M980.4 53.3L1002.5 53.3M980.4 85.7L1007.7 85.7M980.4 118.6L1025.7 118.6M980.4 156.7L1009.9 156.7M980.4 182.4L1024.9 182.4M980.4 200.9L1040.5 200.9M992.6 212.8L992.6 222.0M992.6 213.2L1062.7 213.2M992.6 221.5L1062.7 221.5M975.6 126.6L975.6 217.9M975.6 127.1L980.4 127.1M975.6 217.4L992.6 217.4M1061.2 229.2L1061.2 238.4M1061.2 229.7L1062.7 229.7M1061.2 237.9L1062.7 237.9M1028.6 233.3L1028.6 246.7M1028.6 233.8L1061.2 233.8M1028.6 246.2L1062.7 246.2M1020.5 239.5L1020.5 254.9M1020.5 240.0L1028.6 240.0M1020.5 254.4L1062.7 254.4M1013.5 246.7L1013.5 263.1M1013.5 247.2L1020.5 247.2M1013.5 262.6L1062.7 262.6M1023.6 270.4L1023.6 279.6M1023.6 270.9L1062.7 270.9M1023.6 279.1L1062.7 279.1M1008.5 254.4L1008.5 275.5M1008.5 254.9L1013.5 254.9M1008.5 275.0L1023.6 275.0M990.5 264.4L990.5 287.8M990.5 264.9L1008.5 264.9M990.5 287.3L1062.7 287.3M968.9 171.7L968.9 276.6M968.9 172.2L975.6 172.2M968.9 276.1L990.5 276.1M986.9 295.1L986.9 304.3M986.9 295.6L1062.7 295.6M986.9 303.8L1062.7 303.8M956.7 223.7L956.7 300.2M956.7 224.2L968.9 224.2M956.7 299.7L986.9 299.7M1051.5 311.5L1051.5 320.7M1051.5 312.0L1062.7 312.0M1051.5 320.2L1062.7 320.2M1037.7 315.6L1037.7 329.0M1037.7 316.1L1051.5 316.1M1037.7 328.5L1062.7 328.5M1023.9 321.8L1023.9 337.2M1023.9 322.3L1037.7 322.3M1023.9 336.7L1062.7 336.7M1016.6 329.0L1016.6 345.4M1016.6 329.5L1023.9 329.5M1016.6 344.9L1062.7 344.9M1050.2 352.7L1050.2 370.1M1050.2 353.2L1062.7 353.2M1050.2 361.4L1062.7 361.4M1050.2 369.6L1062.7 369.6M1006.4 336.7L1006.4 361.9M1006.4 337.2L1016.6 337.2M1006.4 361.4L1050.2 361.4M1046.3 377.4L1046.3 386.6M1046.3 377.9L1062.7 377.9M1046.3 386.1L1062.7 386.1M1024.9 381.5L1024.9 394.8M1024.9 382.0L1046.3 382.0M1024.9 394.3L1062.7 394.3M1004.0 387.6L1004.0 403.0M1004.0 388.1L1024.9 388.1M1004.0 402.5L1062.7 402.5M981.7 348.8L981.7 395.8M981.7 349.3L1006.4 349.3M981.7 395.3L1004.0 395.3M1028.0 410.3L1028.0 419.5M1028.0 410.8L1062.7 410.8M1028.0 419.0L1062.7 419.0M1023.9 426.7L1023.9 436.0M1023.9 427.2L1062.7 427.2M1023.9 435.5L1062.7 435.5M1010.6 414.4L1010.6 431.8M1010.6 414.9L1028.0 414.9M1010.6 431.3L1023.9 431.3M998.3 422.6L998.3 444.2M998.3 423.1L1010.6 423.1M998.3 443.7L1062.7 443.7M1015.0 451.4L1015.0 460.7M1015.0 451.9L1062.7 451.9M1015.0 460.2L1062.7 460.2M983.7 432.9L983.7 456.5M983.7 433.4L998.3 433.4M983.7 456.0L1015.0 456.0M962.6 371.8L962.6 445.2M962.6 372.3L981.7 372.3M962.6 444.7L983.7 444.7M947.7 261.4L947.7 409.0M947.7 261.9L956.7 261.9M947.7 408.5L962.6 408.5M1059.3 467.9L1059.3 477.1M1059.3 468.4L1062.7 468.4M1059.3 476.6L1062.7 476.6M1015.0 472.0L1015.0 485.3M1015.0 472.5L1059.3 472.5M1015.0 484.8L1062.7 484.8M1006.4 492.6L1006.4 501.8M1006.4 493.1L1062.7 493.1M1006.4 501.3L1062.7 501.3M979.0 478.2L979.0 497.7M979.0 478.7L1015.0 478.7M979.0 497.2L1006.4 497.2M1059.6 509.0L1059.6 518.3M1059.6 509.5L1062.7 509.5M1059.6 517.8L1062.7 517.8M1022.8 513.1L1022.8 526.5M1022.8 513.6L1059.6 513.6M1022.8 526.0L1062.7 526.0M1057.7 533.7L1057.7 543.0M1057.7 534.2L1062.7 534.2M1057.7 542.5L1062.7 542.5M1004.9 519.3L1004.9 538.8M1004.9 519.8L1022.8 519.8M1004.9 538.3L1057.7 538.3M1009.9 550.2L1009.9 559.4M1009.9 550.7L1062.7 550.7M1009.9 558.9L1062.7 558.9M1023.9 566.6L1023.9 575.9M1023.9 567.1L1062.7 567.1M1023.9 575.4L1062.7 575.4M1041.6 583.1L1041.6 592.3M1041.6 583.6L1062.7 583.6M1041.6 591.8L1062.7 591.8M1016.1 599.6L1016.1 608.8M1016.1 600.1L1062.7 600.1M1016.1 608.3L1062.7 608.3M994.4 616.0L994.4 625.2M994.4 616.5L1062.7 616.5M994.4 624.8L1062.7 624.8M1040.1 632.5L1040.1 641.7M1040.1 633.0L1062.7 633.0M1040.1 641.2L1062.7 641.2M953.0 487.4L953.0 658.2M953.0 487.9L979.0 487.9M953.0 529.1L1004.9 529.1M953.0 554.8L1009.9 554.8M953.0 571.3L1023.9 571.3M953.0 587.7L1041.6 587.7M953.0 604.2L1016.1 604.2M953.0 620.6L994.4 620.6M953.0 637.1L1040.1 637.1M953.0 649.4L1062.7 649.4M953.0 657.7L1062.7 657.7M939.7 334.7L939.7 573.3M939.7 335.2L947.7 335.2M939.7 572.8L953.0 572.8M923.5 453.5L923.5 672.1M923.5 454.0L939.7 454.0M923.5 671.6L1062.7 671.6M907.5 570.9L907.5 686.9M907.5 571.4L923.5 571.4M907.5 686.4L1062.7 686.4M897.5 628.9L907.5 628.9M921.6 709.4L952.9 709.4M921.6 706.6L921.6 712.2M952.9 706.6L952.9 712.2" fill="none" stroke="#231f20" stroke-width="1.1"/>
<path d="M1068.15 9.8L1072.6 3.9L1077.05 9.8Z" fill="#000"/>
<path d="M1068.15 18.0L1072.6 12.1L1077.05 18.0Z" fill="#000"/>
<path d="M1068.15 26.3L1072.6 20.4L1077.05 26.3Z" fill="#000"/>
<path d="M1068.15 34.5L1072.6 28.6L1077.05 34.5Z" fill="#000"/>
<path d="M1068.15 42.7L1072.6 36.8L1077.05 42.7Z" fill="#000"/>
<path d="M1068.15 51.0L1072.6 45.1L1077.05 51.0Z" fill="#000"/>
<path d="M1068.15 59.2L1072.6 53.3L1077.05 59.2Z" fill="#000"/>
<path d="M1068.15 67.4L1072.6 61.5L1077.05 67.4Z" fill="#000"/>
<path d="M1068.15 75.6L1072.6 69.7L1077.05 75.6Z" fill="#000"/>
<path d="M1068.15 83.9L1072.6 78.0L1077.05 83.9Z" fill="#000"/>
<path d="M1068.15 92.1L1072.6 86.2L1077.05 92.1Z" fill="#000"/>
<path d="M1068.15 100.3L1072.6 94.4L1077.05 100.3Z" fill="#000"/>
<path d="M1068.15 108.6L1072.6 102.7L1077.05 108.6Z" fill="#000"/>
<path d="M1068.15 116.8L1072.6 110.9L1077.05 116.8Z" fill="#000"/>
<path d="M1068.15 125.0L1072.6 119.1L1077.05 125.0Z" fill="#000"/>
<path d="M1068.15 133.2L1072.6 127.3L1077.05 133.2Z" fill="#000"/>
<path d="M1068.15 141.5L1072.6 135.6L1077.05 141.5Z" fill="#000"/>
<path d="M1068.15 149.7L1072.6 143.8L1077.05 149.7Z" fill="#000"/>
<path d="M1068.15 157.9L1072.6 152.0L1077.05 157.9Z" fill="#000"/>
<path d="M1068.15 166.2L1072.6 160.3L1077.05 166.2Z" fill="#000"/>
<path d="M1068.15 174.4L1072.6 168.5L1077.05 174.4Z" fill="#000"/>
<path d="M1068.15 182.6L1072.6 176.7L1077.05 182.6Z" fill="#000"/>
<path d="M1068.15 190.9L1072.6 185.0L1077.05 190.9Z" fill="#000"/>
<path d="M1068.15 199.1L1072.6 193.2L1077.05 199.1Z" fill="#000"/>
<path d="M1068.15 207.3L1072.6 201.4L1077.05 207.3Z" fill="#000"/>
<circle cx="1072.6" cy="213.6" r="3.85" fill="#000"/>
<path d="M1068.15 223.8L1072.6 217.9L1077.05 223.8Z" fill="#000"/>
<path d="M1068.15 232.0L1072.6 226.1L1077.05 232.0Z" fill="#000"/>
<path d="M1068.15 240.2L1072.6 234.3L1077.05 240.2Z" fill="#000"/>
<circle cx="1072.6" cy="246.5" r="3.85" fill="#000"/>
<path d="M1068.15 256.7L1072.6 250.8L1077.05 256.7Z" fill="#000"/>
<path d="M1068.15 264.9L1072.6 259.0L1077.05 264.9Z" fill="#000"/>
<path d="M1068.15 273.2L1072.6 267.3L1077.05 273.2Z" fill="#000"/>
<path d="M1068.15 281.4L1072.6 275.5L1077.05 281.4Z" fill="#000"/>
<path d="M1068.15 289.6L1072.6 283.7L1077.05 289.6Z" fill="#000"/>
<path d="M1068.15 297.9L1072.6 291.9L1077.05 297.9Z" fill="#000"/>
<path d="M1068.15 306.1L1072.6 300.2L1077.05 306.1Z" fill="#000"/>
<path d="M1068.6 314.91L1072.6 310.06L1076.6 314.91Z" fill="#ed1c24" stroke="#3a3020" stroke-width="0.65" stroke-linejoin="miter"/>
<path d="M1068.6 323.14L1072.6 318.29L1076.6 323.14Z" fill="#f58220" stroke="#3a3020" stroke-width="0.65" stroke-linejoin="miter"/>
<path d="M1068.6 331.37L1072.6 326.52L1076.6 331.37Z" fill="#f58220" stroke="#3a3020" stroke-width="0.65" stroke-linejoin="miter"/>
<path d="M1068.6 339.60L1072.6 334.75L1076.6 339.60Z" fill="#f58220" stroke="#3a3020" stroke-width="0.65" stroke-linejoin="miter"/>
<path d="M1068.6 347.83L1072.6 342.98L1076.6 347.83Z" fill="#f58220" stroke="#3a3020" stroke-width="0.65" stroke-linejoin="miter"/>
<path d="M1068.6 356.06L1072.6 351.21L1076.6 356.06Z" fill="#f58220" stroke="#3a3020" stroke-width="0.65" stroke-linejoin="miter"/>
<path d="M1068.6 364.29L1072.6 359.44L1076.6 364.29Z" fill="#f58220" stroke="#3a3020" stroke-width="0.65" stroke-linejoin="miter"/>
<path d="M1068.6 372.52L1072.6 367.67L1076.6 372.52Z" fill="#f58220" stroke="#3a3020" stroke-width="0.65" stroke-linejoin="miter"/>
<path d="M1068.6 380.75L1072.6 375.90L1076.6 380.75Z" fill="#f58220" stroke="#3a3020" stroke-width="0.65" stroke-linejoin="miter"/>
<path d="M1068.6 388.98L1072.6 384.13L1076.6 388.98Z" fill="#f58220" stroke="#3a3020" stroke-width="0.65" stroke-linejoin="miter"/>
<path d="M1068.6 397.21L1072.6 392.36L1076.6 397.21Z" fill="#f58220" stroke="#3a3020" stroke-width="0.65" stroke-linejoin="miter"/>
<path d="M1068.6 405.44L1072.6 400.59L1076.6 405.44Z" fill="#f58220" stroke="#3a3020" stroke-width="0.65" stroke-linejoin="miter"/>
<path d="M1068.6 413.67L1072.6 408.82L1076.6 413.67Z" fill="#ffe600" stroke="#3a3020" stroke-width="0.65" stroke-linejoin="miter"/>
<path d="M1068.6 421.90L1072.6 417.05L1076.6 421.90Z" fill="#4cb848" stroke="#3a3020" stroke-width="0.65" stroke-linejoin="miter"/>
<path d="M1068.6 430.13L1072.6 425.28L1076.6 430.13Z" fill="#4cb848" stroke="#3a3020" stroke-width="0.65" stroke-linejoin="miter"/>
<path d="M1068.6 438.36L1072.6 433.51L1076.6 438.36Z" fill="#4cb848" stroke="#3a3020" stroke-width="0.65" stroke-linejoin="miter"/>
<path d="M1068.6 446.59L1072.6 441.74L1076.6 446.59Z" fill="#ed1c24" stroke="#3a3020" stroke-width="0.65" stroke-linejoin="miter"/>
<path d="M1068.6 454.82L1072.6 449.97L1076.6 454.82Z" fill="#4cb848" stroke="#3a3020" stroke-width="0.65" stroke-linejoin="miter"/>
<path d="M1068.6 463.05L1072.6 458.20L1076.6 463.05Z" fill="#4cb848" stroke="#3a3020" stroke-width="0.65" stroke-linejoin="miter"/>
<path d="M1068.6 471.28L1072.6 466.43L1076.6 471.28Z" fill="#4cb848" stroke="#3a3020" stroke-width="0.65" stroke-linejoin="miter"/>
<path d="M1068.6 479.51L1072.6 474.66L1076.6 479.51Z" fill="#ffe600" stroke="#3a3020" stroke-width="0.65" stroke-linejoin="miter"/>
<path d="M1068.6 487.74L1072.6 482.89L1076.6 487.74Z" fill="#ffe600" stroke="#3a3020" stroke-width="0.65" stroke-linejoin="miter"/>
<path d="M1068.6 495.97L1072.6 491.12L1076.6 495.97Z" fill="#ffe600" stroke="#3a3020" stroke-width="0.65" stroke-linejoin="miter"/>
<path d="M1068.15 503.6L1072.6 497.7L1077.05 503.6Z" fill="#000"/>
<path d="M1068.6 512.43L1072.6 507.58L1076.6 512.43Z" fill="#4cb848" stroke="#3a3020" stroke-width="0.65" stroke-linejoin="miter"/>
<path d="M1068.6 520.66L1072.6 515.81L1076.6 520.66Z" fill="#4cb848" stroke="#3a3020" stroke-width="0.65" stroke-linejoin="miter"/>
<path d="M1068.6 528.89L1072.6 524.04L1076.6 528.89Z" fill="#4cb848" stroke="#3a3020" stroke-width="0.65" stroke-linejoin="miter"/>
<path d="M1068.6 537.12L1072.6 532.27L1076.6 537.12Z" fill="#4cb848" stroke="#3a3020" stroke-width="0.65" stroke-linejoin="miter"/>
<path d="M1068.6 545.35L1072.6 540.50L1076.6 545.35Z" fill="#4cb848" stroke="#3a3020" stroke-width="0.65" stroke-linejoin="miter"/>
<path d="M1068.6 553.58L1072.6 548.73L1076.6 553.58Z" fill="#ed1c24" stroke="#3a3020" stroke-width="0.65" stroke-linejoin="miter"/>
<path d="M1068.6 561.81L1072.6 556.96L1076.6 561.81Z" fill="#4cb848" stroke="#3a3020" stroke-width="0.65" stroke-linejoin="miter"/>
<path d="M1068.6 570.04L1072.6 565.19L1076.6 570.04Z" fill="#ffe600" stroke="#3a3020" stroke-width="0.65" stroke-linejoin="miter"/>
<path d="M1068.6 578.27L1072.6 573.42L1076.6 578.27Z" fill="#3a54a4" stroke="#3a3020" stroke-width="0.65" stroke-linejoin="miter"/>
<path d="M1068.6 586.50L1072.6 581.65L1076.6 586.50Z" fill="#ffe600" stroke="#3a3020" stroke-width="0.65" stroke-linejoin="miter"/>
<path d="M1068.6 594.73L1072.6 589.88L1076.6 594.73Z" fill="#f58220" stroke="#3a3020" stroke-width="0.65" stroke-linejoin="miter"/>
<path d="M1068.6 602.96L1072.6 598.11L1076.6 602.96Z" fill="#4cb848" stroke="#3a3020" stroke-width="0.65" stroke-linejoin="miter"/>
<path d="M1068.6 611.19L1072.6 606.34L1076.6 611.19Z" fill="#f58220" stroke="#3a3020" stroke-width="0.65" stroke-linejoin="miter"/>
<path d="M1068.6 619.42L1072.6 614.57L1076.6 619.42Z" fill="#3a54a4" stroke="#3a3020" stroke-width="0.65" stroke-linejoin="miter"/>
<path d="M1068.6 627.65L1072.6 622.80L1076.6 627.65Z" fill="#3a54a4" stroke="#3a3020" stroke-width="0.65" stroke-linejoin="miter"/>
<path d="M1068.6 635.88L1072.6 631.03L1076.6 635.88Z" fill="#4cb848" stroke="#3a3020" stroke-width="0.65" stroke-linejoin="miter"/>
<path d="M1068.6 644.11L1072.6 639.26L1076.6 644.11Z" fill="#4cb848" stroke="#3a3020" stroke-width="0.65" stroke-linejoin="miter"/>
<path d="M1068.6 652.34L1072.6 647.49L1076.6 652.34Z" fill="#ffe600" stroke="#3a3020" stroke-width="0.65" stroke-linejoin="miter"/>
<path d="M1068.6 660.57L1072.6 655.72L1076.6 660.57Z" fill="#3a54a4" stroke="#3a3020" stroke-width="0.65" stroke-linejoin="miter"/>
<path d="M1085.8 8.1C1094.3 8.1 1099.9 15.8 1099.9 30.1L1099.9 201.2C1099.9 215.5 1094.3 223.2 1085.8 223.2M1085.8 225.4C1094.3 225.4 1099.9 230.3 1099.9 239.4L1099.9 275.4C1099.9 284.5 1094.3 289.4 1085.8 289.4M1085.8 293.7L1096.5 293.7Q1099.9 293.7 1099.9 296.5L1099.9 304.3Q1099.9 307.1 1096.5 307.1L1085.8 307.1M1085.8 310C1094.3 310 1099.9 319.1 1099.9 336.0L1099.9 634.6C1099.9 651.5 1094.3 660.6 1085.8 660.6M1235.3 8.1C1244.8 8.1 1251.1 17.5 1251.1 35.1L1251.1 282.5C1251.1 300.1 1244.8 309.5 1235.3 309.5" fill="none" stroke="#231f20" stroke-width="1.5"/>
<g font-family="'Liberation Sans', sans-serif" fill="#231f20">
<text x="1110.5" y="124.9" font-size="23" >Polynesians</text>
<text x="1110.5" y="266.7" font-size="23" >Melanesians</text>
<text x="1110.5" y="308.6" font-size="23" >Philippinos</text>
<text x="1110.5" y="480.5" font-size="23" >Indigenous</text>
<text x="1110.5" y="508.5" font-size="23" >Taiwanese</text>
<text transform="translate(1279.5 223.5) rotate(-90)" font-size="23">Pacific clade</text>
<text x="1073.3" y="676.8" font-size="15.3" font-weight="bold">hspEAsia</text>
<text x="1073.3" y="691.6" font-size="15.3" font-weight="bold">hpAsia2</text>
<text x="921.3" y="726.3" font-size="11.5" >0.002</text>
</g>
<!-- panel -->
<g font-family="'Liberation Sans', sans-serif" font-weight="bold" font-size="25.5" fill="#231f20"><text x="13.6" y="19.1">A</text><text x="867.2" y="19.1">B</text></g>
</svg>
</body></html>
